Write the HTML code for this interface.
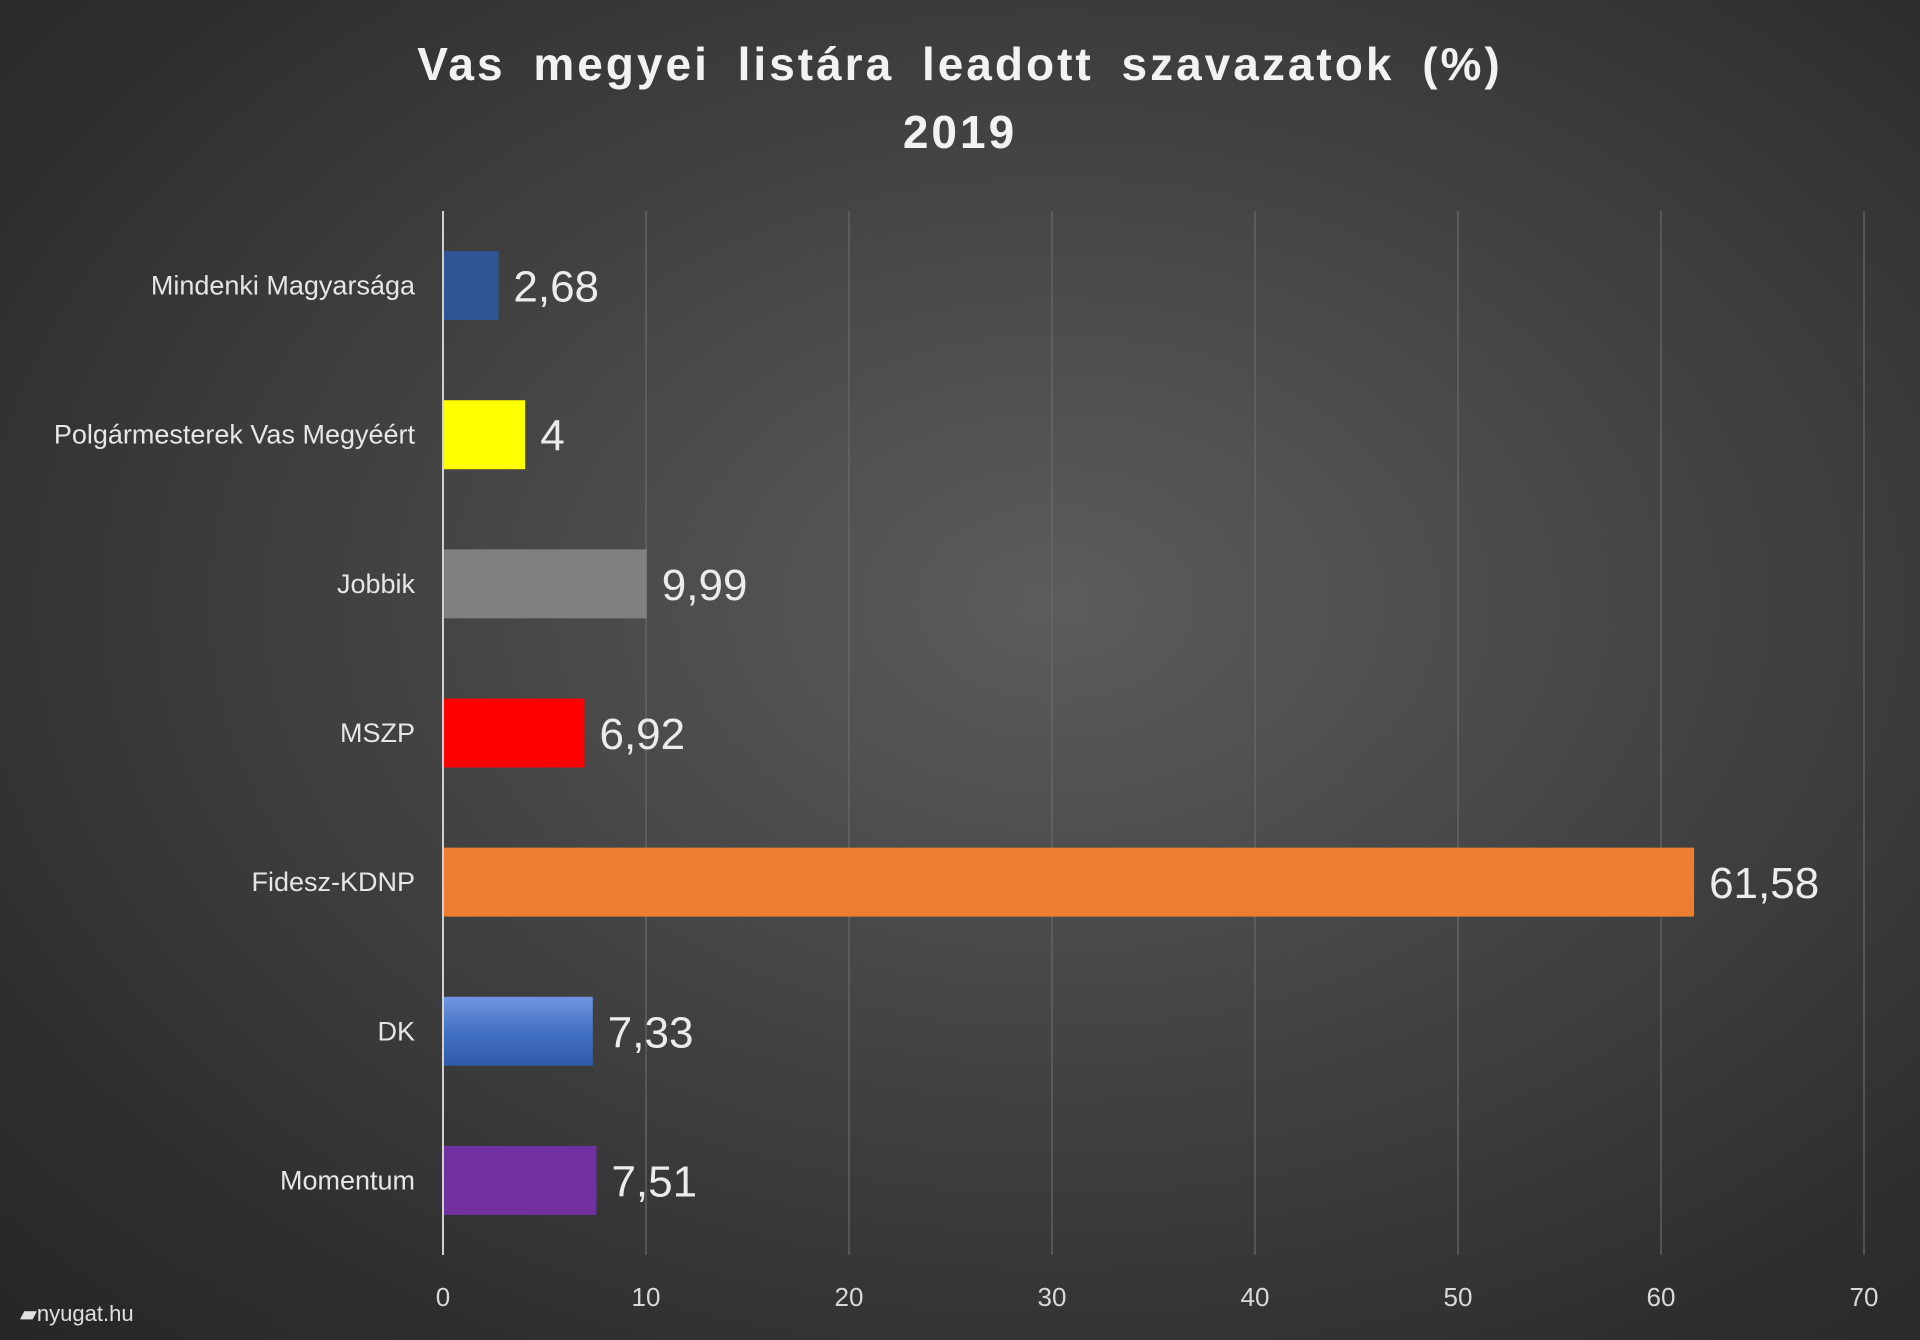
<!DOCTYPE html>
<html><head><meta charset="utf-8">
<style>
html,body{margin:0;padding:0;}
body{width:1920px;height:1340px;overflow:hidden;background:radial-gradient(ellipse at 55% 45%,#5c5c5c 0%,#454545 40%,#2e2e2e 80%,#262626 100%);font-family:"Liberation Sans",sans-serif;}
svg{position:absolute;left:0;top:0;}
</style></head>
<body>
<svg id="chart" width="1920" height="1340">
<defs>
<linearGradient id="dkgrad" x1="0" y1="0" x2="0" y2="1"><stop offset="0" stop-color="#6f95e0"/><stop offset="0.5" stop-color="#4472c4"/><stop offset="1" stop-color="#2f5aa8"/></linearGradient>
</defs>
<text x="960" y="80" text-anchor="middle" fill="#f2f2f2" font-size="46" font-weight="bold" letter-spacing="3" word-spacing="12">Vas megyei listára leadott szavazatok (%)</text>
<text x="960" y="148" text-anchor="middle" fill="#f2f2f2" font-size="46" font-weight="bold" letter-spacing="3">2019</text>
<g id="grid"></g>
<g id="bars"></g>
<text x="20" y="1321" fill="#e0e0e0" font-size="22">▰nyugat.hu</text>
</svg>
<script>
const categories=["Mindenki Magyarsága","Polgármesterek Vas Megyéért","Jobbik","MSZP","Fidesz-KDNP","DK","Momentum"];
const values=[2.68,4,9.99,6.92,61.58,7.33,7.51];
const valueLabels=["2,68","4","9,99","6,92","61,58","7,33","7,51"];
const colors=["#2f5597","#ffff00","#808080","#ff0000","#ed7d31","url(#dkgrad)","#7030a0"];
const ticks=[0,10,20,30,40,50,60,70];
const NS="http://www.w3.org/2000/svg";
const x0=443,x1=1864,yTop=211,yBottom=1255;
const xs=v=>x0+(v/70)*(x1-x0);
const band=(yBottom-yTop)/categories.length;
const yc=i=>yTop+band*(i+0.5);
const grid=document.getElementById('grid'),bars=document.getElementById('bars');
function mk(tag,attrs,parent){const e=document.createElementNS(NS,tag);for(const k in attrs)e.setAttribute(k,attrs[k]);parent.appendChild(e);return e;}
ticks.forEach(t=>{
 const l=mk('line',{x1:xs(t),x2:xs(t),y1:yTop,y2:yBottom,stroke:t===0?'#d0d0d0':'#6a6a6a','stroke-width':t===0?2:1.2},grid);
 
 
 const tx=mk('text',{x:xs(t),y:1306,'text-anchor':'middle',fill:'#d9d9d9','font-size':26},grid);
 tx.textContent=t;
 
 
});
const bh=69;
categories.forEach((c,i)=>{
 const y=yc(i);
 const r=mk('rect',{x:x0+1,y:y-bh/2,width:xs(values[i])-x0,height:bh,fill:colors[i]},bars);
 
 
 const lab=mk('text',{x:415,y:y+9,'text-anchor':'end',fill:'#e6e6e6','font-size':27},bars);
 lab.textContent=c;
 
 
 const v=mk('text',{x:xs(values[i])+16,y:y+16,fill:'#ececec','font-size':44},bars);
 v.textContent=valueLabels[i];
 
 
});
</script>
</body></html>
